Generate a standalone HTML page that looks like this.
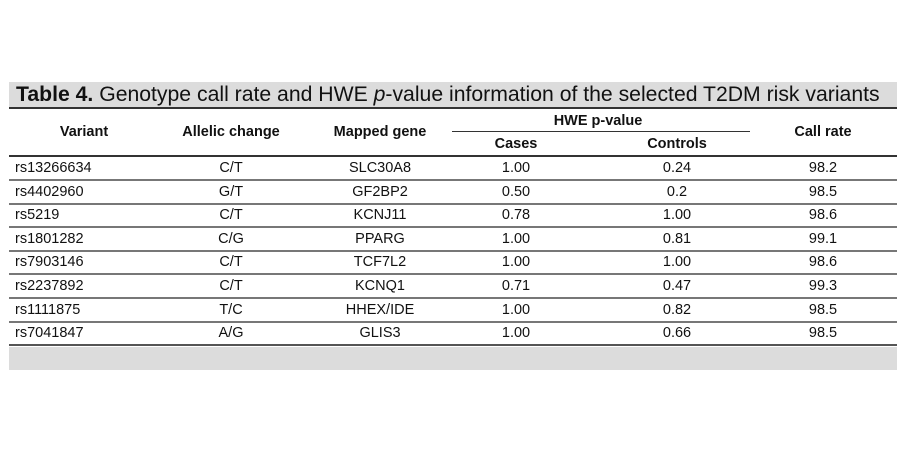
<!DOCTYPE html>
<html><head><style>
body{margin:0;width:900px;height:472px;background:#fff;position:relative;font-family:"Liberation Sans",Arial,sans-serif;color:#111;overflow:hidden}
.t{position:absolute;font-size:14.5px;white-space:nowrap;transform:translate(-50%,-50%)}
.l{position:absolute;font-size:14.5px;white-space:nowrap;transform:translateY(-50%);left:15px}
.b{font-weight:bold}
.hl{position:absolute;left:9px;width:888px;height:2px;background:#555}
</style></head><body>
<div style="position:absolute;left:9px;top:82px;width:888px;height:25px;background:#dcdcdc"></div>
<div style="position:absolute;left:16px;top:83px;font-size:21.2px;line-height:23px">
<b>Table 4.</b> Genotype call rate and HWE <i>p</i>-value information of the selected T2DM risk variants</div>
<div class="hl" style="top:107px;background:#333"></div>
<div class="t b" style="left:84px;top:132px">Variant</div>
<div class="t b" style="left:231px;top:132px">Allelic change</div>
<div class="t b" style="left:380px;top:132px">Mapped gene</div>
<div class="t b" style="left:598px;top:121px">HWE p-value</div>
<div style="position:absolute;left:452px;top:131px;width:298px;height:1px;background:#333"></div>
<div class="t b" style="left:516px;top:144px">Cases</div>
<div class="t b" style="left:677px;top:144px">Controls</div>
<div class="t b" style="left:823px;top:132px">Call rate</div>
<div class="hl" style="top:155px;background:#333"></div>
<div id="rows"></div>
<div style="position:absolute;left:9px;top:347px;width:888px;height:23px;background:#dcdcdc"></div>
<script>
var d=[["rs13266634","C/T","SLC30A8","1.00","0.24","98.2"],["rs4402960","G/T","GF2BP2","0.50","0.2","98.5"],["rs5219","C/T","KCNJ11","0.78","1.00","98.6"],["rs1801282","C/G","PPARG","1.00","0.81","99.1"],["rs7903146","C/T","TCF7L2","1.00","1.00","98.6"],["rs2237892","C/T","KCNQ1","0.71","0.47","99.3"],["rs1111875","T/C","HHEX/IDE","1.00","0.82","98.5"],["rs7041847","A/G","GLIS3","1.00","0.66","98.5"]];
var xs=[0,231,380,516,677,823],h="";
for(var i=0;i<8;i++){var y=168+i*23.6;
h+='<div class="l" style="top:'+y+'px">'+d[i][0]+'</div>';
for(var j=1;j<6;j++)h+='<div class="t" style="left:'+xs[j]+'px;top:'+y+'px">'+d[i][j]+'</div>';
h+='<div class="hl" style="top:'+(y+11)+'px;background:'+(i==7?'#555':'#777')+'"></div>';}
document.getElementById('rows').innerHTML=h;
</script>
</body></html>
